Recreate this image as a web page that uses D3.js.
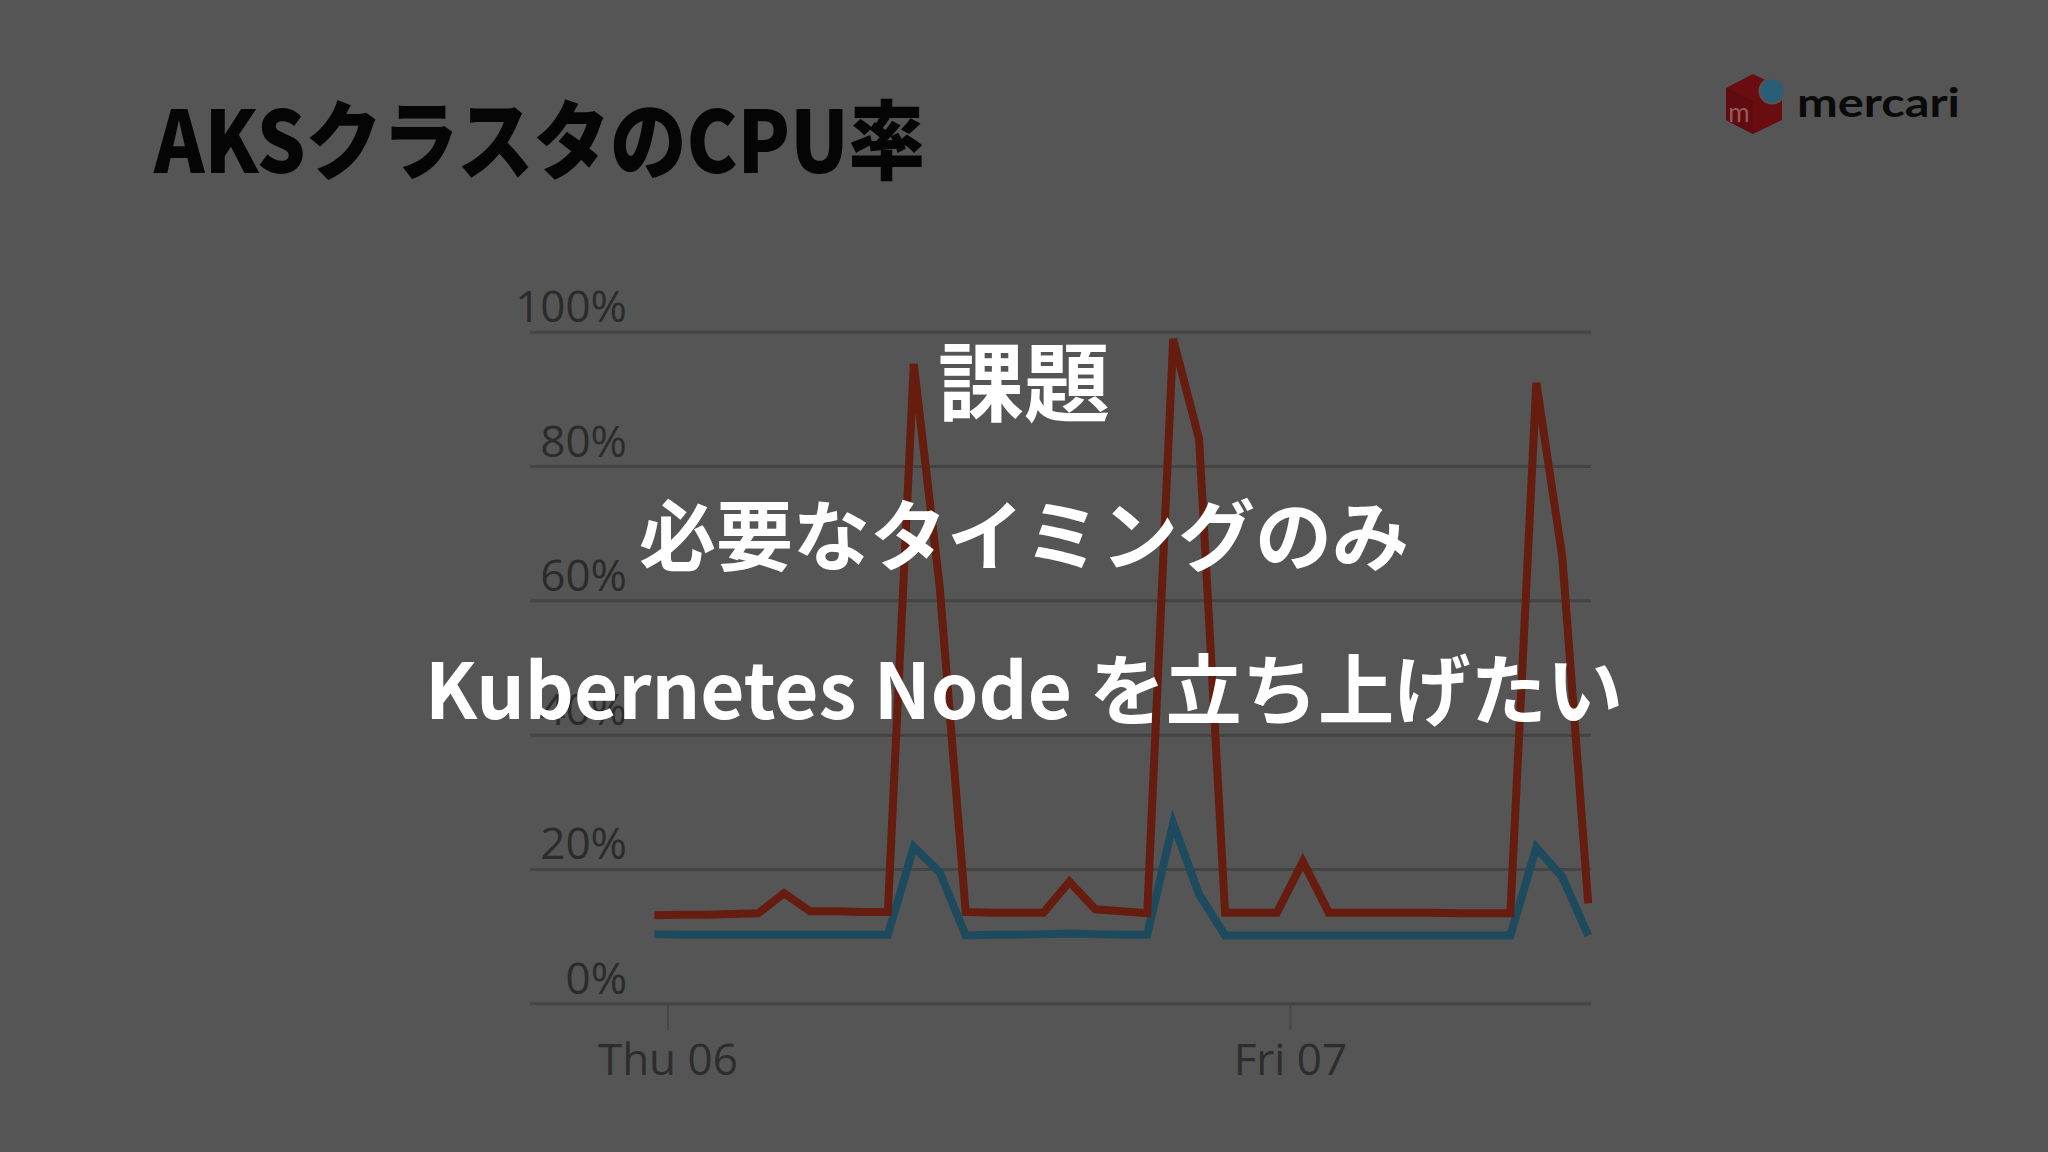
<!DOCTYPE html>
<html>
<head>
<meta charset="utf-8">
<script src="https://cdn.jsdelivr.net/npm/d3@7"></script>
<style>
  html, body { margin: 0; padding: 0; background: #555555; }
  svg { display: block; }
</style>
</head>
<body>
<svg id="chart" width="2048" height="1152"></svg>
<script>
// ---- data ----
const times = [
  "2019-06-05T23:30","2019-06-06T00:30","2019-06-06T01:30","2019-06-06T02:30","2019-06-06T03:30",
  "2019-06-06T04:30","2019-06-06T05:30","2019-06-06T06:30","2019-06-06T07:30","2019-06-06T08:30",
  "2019-06-06T09:30","2019-06-06T10:30","2019-06-06T11:30","2019-06-06T12:30","2019-06-06T13:30",
  "2019-06-06T14:30","2019-06-06T15:30","2019-06-06T16:30","2019-06-06T17:30","2019-06-06T18:30",
  "2019-06-06T19:30","2019-06-06T20:30","2019-06-06T21:30","2019-06-06T22:30","2019-06-06T23:30",
  "2019-06-07T00:30","2019-06-07T01:30","2019-06-07T02:30","2019-06-07T03:30","2019-06-07T04:30",
  "2019-06-07T05:30","2019-06-07T06:30","2019-06-07T07:30","2019-06-07T08:30","2019-06-07T09:30",
  "2019-06-07T10:30","2019-06-07T11:30"
];
const cpuMax = [
  13.1, 13.2, 13.2, 13.3, 13.4, 16.4, 13.7, 13.7, 13.6, 13.6,
  95.2, 62.0, 13.6, 13.5, 13.5, 13.5, 18.1, 14.0, 13.7, 13.4,
  98.9, 84.0, 13.5, 13.5, 13.5, 21.1, 13.5, 13.5, 13.5, 13.5,
  13.5, 13.4, 13.4, 13.4, 92.4, 66.5, 14.9
];
const cpuAvg = [
  10.3, 10.2, 10.2, 10.2, 10.2, 10.2, 10.2, 10.2, 10.2, 10.2,
  23.3, 19.5, 10.1, 10.2, 10.2, 10.3, 10.4, 10.3, 10.2, 10.2,
  26.8, 16.2, 10.1, 10.1, 10.1, 10.1, 10.1, 10.1, 10.1, 10.1,
  10.1, 10.1, 10.1, 10.1, 23.2, 18.8, 10.1
];
const yTicks = [0, 20, 40, 60, 80, 100];
const xTickDates = ["2019-06-06T00:00", "2019-06-07T00:00"];
const titleText = "AKSクラスタのCPU率";
const overlayLines = ["課題", "必要なタイミングのみ", "Kubernetes Node を立ち上げたい"];
const brandName = "mercari";

// ---- drawing ----
const svg = d3.select("#chart");
const parse = d3.timeParse("%Y-%m-%dT%H:%M");
const dates = times.map(parse);

const plotLeft = 530, plotRight = 1591;
const x = d3.scaleTime()
  .domain([dates[0], dates[dates.length - 1]])
  .range([654.4, 1588.2]);
const y = d3.scaleLinear().domain([0, 100]).range([1003.3, 331.7]);

// background
svg.append("rect").attr("width", 2048).attr("height", 1152).attr("fill", "#555555");

// title
svg.append("text")
  .attr("x", 154).attr("y", 173)
  .attr("font-family", "'Noto Sans CJK JP', sans-serif")
  .attr("font-weight", 900)
  .attr("font-size", 86)
  .attr("fill", "#050505")
  .attr("textLength", 771)
  .attr("lengthAdjust", "spacingAndGlyphs")
  .text(titleText);

// logo
const logo = svg.append("g");
logo.append("polygon")
  .attr("points", "1753,74 1782,88 1782,120 1753,134 1726,120 1726,88")
  .attr("fill", "#6a0d11");
logo.append("polygon")
  .attr("points", "1726,88 1753,101 1753,134 1726,120")
  .attr("fill", "#600b0f");
logo.append("text")
  .attr("x", 1739).attr("y", 122)
  .attr("text-anchor", "middle")
  .attr("font-family", "Lato, sans-serif")
  .attr("font-size", 26)
  .attr("fill", "#9a5a5a")
  .text("m");
logo.append("circle")
  .attr("cx", 1772).attr("cy", 91).attr("r", 12.5)
  .attr("fill", "#2a5e76")
  .attr("stroke", "#555555").attr("stroke-width", 2);
logo.append("text")
  .attr("x", 1797).attr("y", 117)
  .attr("font-family", "Lato, sans-serif")
  .attr("font-weight", 700)
  .attr("font-size", 40)
  .attr("fill", "#0a0a0a")
  .attr("textLength", 163)
  .attr("lengthAdjust", "spacingAndGlyphs")
  .text(brandName);

// y grid + labels
const yAxis = d3.axisLeft(y)
  .tickValues(yTicks)
  .tickSize(-(plotRight - plotLeft))
  .tickFormat(d => d + "%");
const yg = svg.append("g")
  .attr("transform", `translate(${plotLeft},0)`)
  .call(yAxis);
yg.select(".domain").remove();
yg.selectAll(".tick line")
  .attr("stroke", "#444444")
  .attr("stroke-width", 3);
yg.selectAll(".tick text")
  .attr("x", 97)
  .attr("y", -10)
  .attr("dy", null)
  .attr("text-anchor", "end")
  .attr("font-family", "'Open Sans', sans-serif")
  .attr("font-size", 44)
  .attr("fill", "#2b2b2b");

// x axis
const xAxis = d3.axisBottom(x)
  .tickValues(xTickDates.map(parse))
  .tickSize(27)
  .tickFormat(d3.timeFormat("%a %d"));
const xg = svg.append("g")
  .attr("transform", `translate(0,${y(0)})`)
  .call(xAxis);
xg.select(".domain").remove();
xg.selectAll(".tick line")
  .attr("stroke", "#474747")
  .attr("stroke-width", 2);
xg.selectAll(".tick text")
  .attr("y", 72)
  .attr("dy", null)
  .attr("font-family", "'Open Sans', sans-serif")
  .attr("font-size", 44)
  .attr("fill", "#2d2d2d");

// lines
const line = d3.line()
  .x((d, i) => x(dates[i]))
  .y(d => y(d));

svg.append("path")
  .datum(cpuAvg)
  .attr("d", line)
  .attr("fill", "none")
  .attr("stroke", "#1e4a5e")
  .attr("stroke-width", 8);

svg.append("path")
  .datum(cpuMax)
  .attr("d", line)
  .attr("fill", "none")
  .attr("stroke", "#661d0f")
  .attr("stroke-width", 8);

// overlay message
const overlay = svg.append("g")
  .attr("font-family", "'Noto Sans CJK JP', sans-serif")
  .attr("font-weight", 700)
  .attr("fill", "#ffffff")
  .attr("text-anchor", "middle");
overlay.append("text")
  .attr("x", 1024).attr("y", 415)
  .attr("font-size", 86)
  .text(overlayLines[0]);
overlay.append("text")
  .attr("x", 1024).attr("y", 565)
  .attr("font-size", 77)
  .text(overlayLines[1]);
overlay.append("text")
  .attr("x", 1024).attr("y", 719)
  .attr("font-size", 77)
  .attr("textLength", 1198)
  .attr("lengthAdjust", "spacingAndGlyphs")
  .text(overlayLines[2]);
</script>
</body>
</html>
